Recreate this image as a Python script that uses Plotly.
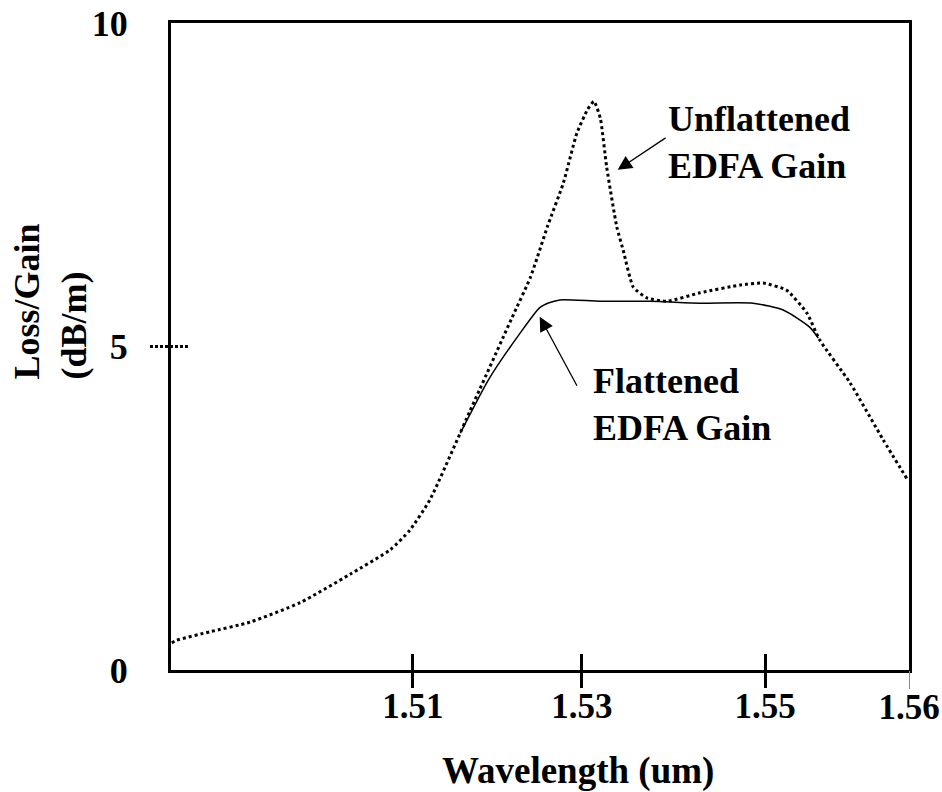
import numpy as np
import plotly.graph_objects as go

# ---- data ----
unflat_wl = [1.4801, 1.4807, 1.4848, 1.4898, 1.4960, 1.5022, 1.5072, 1.5096, 1.5120,
             1.5168, 1.5217, 1.5239, 1.5259, 1.5278, 1.5294, 1.5306, 1.5313, 1.5320,
             1.5327, 1.5338, 1.5345, 1.5356, 1.5371, 1.5393, 1.5429, 1.5473, 1.5498,
             1.5515, 1.5529, 1.5538, 1.5559, 1.5582, 1.5599]
unflat_gain = [0.42, 0.46, 0.59, 0.74, 1.04, 1.48, 1.86, 2.16, 2.63,
               4.02, 5.44, 6.07, 6.85, 7.53, 8.30, 8.66, 8.79, 8.53,
               7.77, 6.85, 6.49, 5.92, 5.75, 5.70, 5.83, 5.95, 5.98,
               5.87, 5.52, 5.10, 4.44, 3.56, 2.94]

flat_wl = [1.5156, 1.5190, 1.5227, 1.5250, 1.5262, 1.5274, 1.5320, 1.5374, 1.5429,
           1.5487, 1.5513, 1.5531, 1.5537]
flat_gain = [3.66, 4.50, 5.21, 5.60, 5.68, 5.72, 5.70, 5.70, 5.67,
             5.67, 5.56, 5.30, 5.13]

x_tick_vals = [1.51, 1.53, 1.55]
x_tick_text = ["1.51", "1.53", "1.55"]
x_end_val = [1.56]
x_end_text = ["1.56"]
y_tick_vals = [0, 5, 10]
y_tick_text = ["0", "5", "10"]

# hand-drawn (non-uniform) wavelength scale of the sketch
WL_ANCH = [1.48, 1.51, 1.53, 1.55, 1.56]
U_ANCH = [0.0, 0.3279, 0.5569, 0.8049, 1.0]


def warp(w):
    return np.interp(w, WL_ANCH, U_ANCH)


FONT = "Liberation Serif"
fig = go.Figure()

fig.add_trace(go.Scatter(
    x=warp(unflat_wl), y=unflat_gain, mode="lines",
    line=dict(color="black", width=3, dash="3px,3px", shape="spline", smoothing=0.5),
    hoverinfo="skip"))
fig.add_trace(go.Scatter(
    x=warp(flat_wl), y=flat_gain, mode="lines",
    line=dict(color="black", width=1.5, shape="spline", smoothing=0.6),
    hoverinfo="skip"))
# empty traces so the overlay tick axes are drawn
fig.add_trace(go.Scatter(x=[None], y=[None], xaxis="x2", yaxis="y",
                         mode="lines", hoverinfo="skip"))
fig.add_trace(go.Scatter(x=[None], y=[None], xaxis="x3", yaxis="y",
                         mode="lines", hoverinfo="skip"))

bold = dict(family=FONT, size=35, color="black", weight="bold")

fig.update_layout(
    width=942, height=792,
    margin=dict(l=171, r=33, t=23, b=122, autoexpand=False),
    paper_bgcolor="white", plot_bgcolor="white",
    showlegend=False,
    xaxis=dict(range=[0, 1], showgrid=False, zeroline=False, automargin=False,
               showline=True, mirror=True, linewidth=3, linecolor="black",
               tickmode="array", tickvals=list(warp(x_tick_vals)), ticktext=x_tick_text,
               ticks="outside", ticklen=15, tickwidth=3, tickcolor="black",
               tickfont=bold, ticklabelstandoff=-12, ticklabeloverflow="allow",
               fixedrange=True),
    xaxis2=dict(range=[0, 1], overlaying="x", anchor="y", side="bottom", automargin=False,
                showgrid=False, zeroline=False, showline=False,
                tickmode="array", tickvals=list(warp(x_tick_vals)),
                ticks="inside", ticklen=16, tickwidth=3, tickcolor="black",
                showticklabels=False, fixedrange=True),
    xaxis3=dict(range=[0, 1], overlaying="x", anchor="y", side="bottom", automargin=False,
                showgrid=False, zeroline=False, showline=False,
                tickmode="array", tickvals=list(warp(x_end_val)), ticktext=x_end_text,
                ticks="outside", ticklen=18, tickwidth=1, tickcolor="#888888",
                tickfont=bold, ticklabelstandoff=-12, ticklabeloverflow="allow",
                fixedrange=True),
    yaxis=dict(range=[0, 10], showgrid=False, zeroline=False, automargin=False,
               showline=True, mirror=True, linewidth=3, linecolor="black",
               tickmode="array", tickvals=y_tick_vals, ticktext=y_tick_text,
               ticks="", tickfont=dict(family=FONT, size=36, color="black", weight="bold"),
               ticklabelstandoff=33, ticklabeloverflow="allow", fixedrange=True),
)

# dotted tick at y = 5
fig.add_shape(type="line", xref="paper", yref="y", x0=-0.0285, x1=0.0244, y0=5, y1=5,
              line=dict(color="black", width=3, dash="3px,2px"))

# axis titles
fig.add_annotation(text="Loss/Gain<br>(dB/m)", xref="paper", yref="paper",
                   x=-0.163, y=0.569, xanchor="center", yanchor="middle",
                   textangle=-90, align="left", showarrow=False,
                   font=dict(family=FONT, size=36, color="black", weight="bold"))
fig.add_annotation(text="Wavelength (um)", xref="paper", yref="paper",
                   x=0.5515, y=-0.156, xanchor="center", yanchor="middle",
                   showarrow=False,
                   font=dict(family=FONT, size=37, color="black", weight="bold"))

# curve labels
lab_font = dict(family=FONT, size=36, color="black", weight="bold")
fig.add_annotation(text="Unflattened<br>EDFA Gain", x=warp(1.5392), y=8.16,
                   xanchor="left", yanchor="middle", align="left",
                   showarrow=False, font=lab_font)
fig.add_annotation(text="Flattened<br>EDFA Gain", x=warp(1.5310), y=4.10,
                   xanchor="left", yanchor="middle", align="left",
                   showarrow=False, font=lab_font)

# arrows
fig.add_annotation(text="", x=warp(1.5339), y=7.73, ax=warp(1.5393), ay=8.24,
                   axref="x", ayref="y", showarrow=True, arrowhead=2,
                   arrowsize=2.2, arrowwidth=1.3, arrowcolor="black", standoff=0)
fig.add_annotation(text="", x=warp(1.5250), y=5.46, ax=warp(1.5295), ay=4.37,
                   axref="x", ayref="y", showarrow=True, arrowhead=2,
                   arrowsize=2.2, arrowwidth=1.3, arrowcolor="black", standoff=0)

# remove the default 8px page margin so the 942x792 figure fills the window
fig.write_html("out.html",
               config={"displayModeBar": False},
               post_script="document.body.style.margin='0';"
                           "document.body.style.overflow='hidden';")
